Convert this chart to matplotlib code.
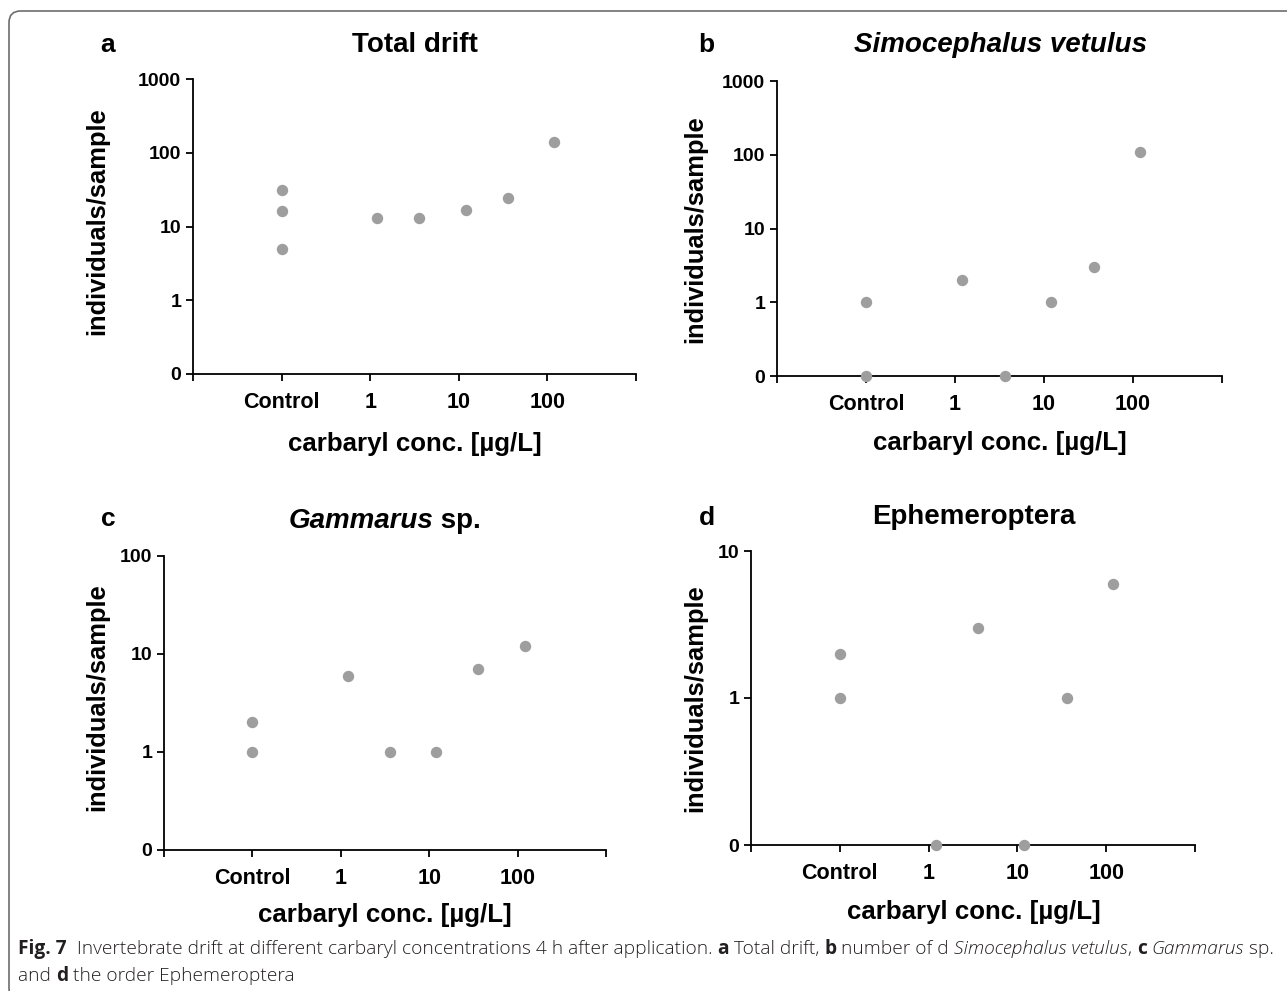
import numpy as np
import matplotlib
matplotlib.use("Agg")
import matplotlib.pyplot as plt
from matplotlib.ticker import FixedLocator, NullLocator
from matplotlib.patches import FancyBboxPatch

# ---------------- data ----------------
conc_levels = [1.2, 3.6, 12, 36, 120]          # µg/L (control plotted at 0)

total_control = [31, 16, 5]
total_values = [13, 13, 17, 24, 140]

simo_control = [1, 0]
simo_values = [2, 0, 1, 3, 110]

gamm_control = [2, 1]
gamm_values = [6, 1, 1, 7, 12]

ephe_control = [2, 1]
ephe_values = [0, 3, 0, 1, 6]

x_tick_values = [0.01, 0, 1, 10, 100, 1000]
x_tick_labels = ["", "Control", "1", "10", "100", ""]

# ---------------- figure ----------------
W, H = 1287, 991
fig = plt.figure(figsize=(W / 100, H / 100), dpi=100)
fig.patch.set_facecolor("white")

FONT = "Liberation Sans"
MARK = "#9e9e9e"


def fx(x):
    return x / W


def fy(y):
    return 1 - y / H


def fwd(v):
    v = np.asarray(v, dtype=float)
    return np.log10(np.where(v > 0, v, 0.1))


def inv(v):
    return 10.0 ** np.asarray(v, dtype=float)


def make_axes(left, right, top, bottom, ymax, control, values):
    ax = fig.add_axes([fx(left), fy(bottom), (right - left) / W, (bottom - top) / H])
    ax.set_xscale("function", functions=(fwd, inv))
    ax.set_yscale("function", functions=(fwd, inv))
    xs = [0] * len(control) + list(conc_levels)
    ys = list(control) + list(values)
    ax.plot(xs, ys, linestyle="none", marker="o", markersize=7.2,
            markerfacecolor=MARK, markeredgecolor=MARK, clip_on=False, zorder=5)
    ax.set_xlim(0.01, 1000)
    ax.set_ylim(0, ymax)
    yt = [0] + [10 ** k for k in range(int(round(np.log10(ymax))) + 1)]
    ax.yaxis.set_major_locator(FixedLocator(yt))
    ax.set_yticklabels([str(v) for v in yt])
    ax.xaxis.set_major_locator(FixedLocator(x_tick_values))
    ax.set_xticklabels(x_tick_labels)
    ax.xaxis.set_minor_locator(NullLocator())
    ax.yaxis.set_minor_locator(NullLocator())
    for s in ("top", "right"):
        ax.spines[s].set_visible(False)
    for s in ("left", "bottom"):
        ax.spines[s].set_linewidth(1.3)
        ax.spines[s].set_color("black")
    ax.tick_params(axis="both", direction="out", length=5, width=1.3, color="black")
    ax.tick_params(axis="y", pad=3.5, labelsize=14)
    ax.tick_params(axis="x", pad=8, labelsize=15.5)
    for lab in ax.get_xticklabels() + ax.get_yticklabels():
        lab.set_fontfamily(FONT)
        lab.set_fontweight("bold")
    ax.set_facecolor("none")
    return ax


make_axes(193, 636, 79, 374, 1000, total_control, total_values)
make_axes(777, 1222, 81, 376, 1000, simo_control, simo_values)
make_axes(164, 606, 556, 850, 100, gamm_control, gamm_values)
make_axes(751, 1195, 551, 845, 10, ephe_control, ephe_values)

renderer = fig.canvas.get_renderer()


def rich(pieces, x, y, size, family, align="left", color="black", va="baseline"):
    """pieces: list of (text, weight, style). x,y in pixels."""
    texts = []
    widths = []
    for txt, weight, style in pieces:
        t = fig.text(0, 0, txt, fontsize=size, family=family, weight=weight,
                     style=style, va=va, ha="left", color=color)
        widths.append(t.get_window_extent(renderer).width)
        texts.append(t)
    total = sum(widths)
    start = x - total / 2 if align == "center" else x
    cur = start
    for t, w in zip(texts, widths):
        t.set_position((fx(cur), fy(y)))
        cur += w
    return total


# panel letters
for letter, (lx, ly) in zip("abcd", [(108, 45), (706, 45), (108, 519), (707, 518)]):
    fig.text(fx(lx), fy(ly), letter, fontsize=19, family=FONT, weight="bold",
             ha="center", va="center")

# titles
fig.text(fx(415), fy(45), "Total drift", fontsize=20, family=FONT, weight="bold",
         ha="center", va="center")
fig.text(fx(1000), fy(45), "Simocephalus vetulus", fontsize=20, family=FONT,
         weight="bold", style="italic", ha="center", va="center")
rich([("Gammarus", "bold", "italic"), (" sp.", "bold", "normal")], 385, 521, 20,
     FONT, align="center", va="center")
fig.text(fx(974), fy(517), "Ephemeroptera", fontsize=20, family=FONT, weight="bold",
         ha="center", va="center")

# y labels
for (lx, ly) in [(97, 221), (695, 229), (97, 697), (695, 698)]:
    fig.text(fx(lx), fy(ly), "individuals/sample", fontsize=18.4, family=FONT,
             weight="bold", rotation=90, ha="center", va="center")

# x labels
for (lx, ly) in [(415, 444), (1000, 443), (385, 915), (974, 912)]:
    fig.text(fx(lx), fy(ly), "carbaryl conc. [µg/L]", fontsize=18.6, family=FONT,
             weight="bold", ha="center", va="center")

# caption
CAP = "Open Sans"
line1 = [("Fig. 7", "bold", "normal"),
         ("  Invertebrate drift at different carbaryl concentrations 4 h after application. ", "light", "normal"),
         ("a", "bold", "normal"), (" Total drift, ", "light", "normal"),
         ("b", "bold", "normal"), (" number of d ", "light", "normal"),
         ("Simocephalus vetulus", "light", "italic"), (", ", "light", "normal"),
         ("c", "bold", "normal"), (" ", "light", "normal"),
         ("Gammarus", "light", "italic"), (" sp.", "light", "normal")]
line2 = [("and ", "light", "normal"), ("d", "bold", "normal"),
         (" the order Ephemeroptera", "light", "normal")]

# measure at a reference size then scale to the target line width
probe = [fig.text(0, 0, t, fontsize=10, family=CAP, weight=w, style=s) for t, w, s in line1]
wprobe = sum(p.get_window_extent(renderer).width for p in probe)
for p in probe:
    p.remove()
cap_size = 10 * (1252 / wprobe)
rich(line1, 18, 954, cap_size, CAP, color="#231f20")
rich(line2, 18, 981, cap_size, CAP, color="#231f20")

# rounded frame
frame = FancyBboxPatch((fx(9), fy(1000)), fx(1320) - fx(9), fy(11) - fy(1000),
                       boxstyle="round,pad=0,rounding_size=0.009",
                       transform=fig.transFigure, facecolor="none",
                       edgecolor="#6d6d6d", linewidth=1.2, clip_on=False,
                       mutation_aspect=W / H)
fig.patches.append(frame)

fig.savefig("out.png", dpi=100)
